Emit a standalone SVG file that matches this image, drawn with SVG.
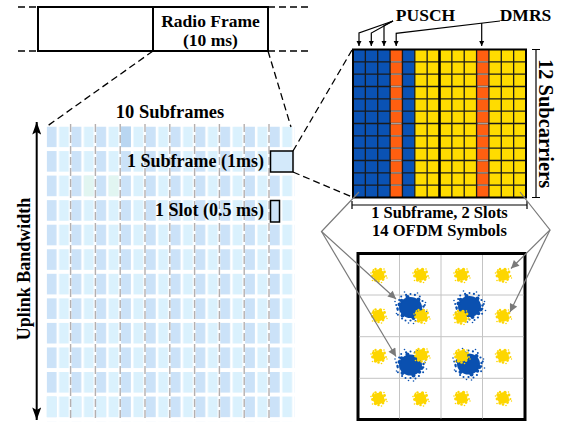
<svg xmlns="http://www.w3.org/2000/svg" width="564" height="424" viewBox="0 0 564 424">
<style>
text { font-family: "Liberation Serif", "Times New Roman", serif; font-weight: bold; fill: #000; }
.dash { stroke: #000; stroke-width: 1.3; stroke-dasharray: 7 4; fill: none; }
.gdash { stroke: #b4afaf; stroke-width: 1.4; stroke-dasharray: 8 3; fill: none; }
.blk { stroke: #000; stroke-width: 1.2; fill: none; }
.garrow { stroke: #7a7a7a; stroke-width: 1.2; fill: none; }
</style>
<defs>
<marker id="ah" viewBox="0 0 10 10" refX="10" refY="5" markerWidth="5" markerHeight="7" markerUnits="userSpaceOnUse" orient="auto">
<path d="M0,0 L10,5 L0,10 z" fill="#000"/>
</marker>
<marker id="ahg" viewBox="0 0 10 10" refX="10" refY="5" markerWidth="10" markerHeight="8" markerUnits="userSpaceOnUse" orient="auto">
<path d="M0,0 L10,5 L0,10 z" fill="#7a7a7a"/>
</marker>
<marker id="ahb" viewBox="0 0 14 10" refX="14" refY="5" markerWidth="14" markerHeight="9" markerUnits="userSpaceOnUse" orient="auto-start-reverse">
<path d="M0,0 L14,5 L0,10 L3,5 z" fill="#000"/>
</marker>
<pattern id="cells" patternUnits="userSpaceOnUse" x="46.7" y="126.5" width="24.8" height="24.55">
<rect x="0" y="0" width="9.8" height="20.6" fill="#cbe2f8"/>
<rect x="12.4" y="0" width="9.8" height="20.6" fill="#daf1fd"/>
</pattern>
<g id="yc" fill="#fdd600">
<circle r="5.8"/>
<circle cx="-5" cy="-3" r="1.7"/><circle cx="5" cy="2" r="1.7"/><circle cx="-3" cy="5" r="1.7"/><circle cx="2" cy="-5.5" r="1.7"/>
<circle cx="4.5" cy="4.5" r="1.4"/><circle cx="-6" cy="1" r="1.4"/><circle cx="6" cy="-3" r="1.4"/><circle cx="0" cy="6.5" r="1.3"/>
<circle cx="-3" cy="-6" r="1.2"/><circle cx="-5" cy="-5" r="0.9"/><circle cx="7.5" cy="1" r="0.9"/><circle cx="-7.5" cy="-2" r="0.8"/>
<circle cx="3" cy="7.5" r="0.8"/><circle cx="5.5" cy="-6" r="0.8"/><circle cx="-6" cy="5.5" r="0.8"/><circle cx="8.5" cy="3" r="0.7"/>
</g>
<g id="bc" fill="#0a50b0">
<ellipse rx="11.5" ry="10.5"/>
<circle cx="11" cy="3" r="2"/><circle cx="-11" cy="-3" r="2"/><circle cx="3" cy="10.5" r="2"/><circle cx="-3" cy="-10.5" r="2"/>
<circle cx="8" cy="-8" r="2"/><circle cx="-8" cy="8" r="2"/><circle cx="9" cy="7" r="1.8"/><circle cx="-9" cy="-7" r="1.8"/>
<circle cx="12.8" cy="2.3" r="1.1"/><circle cx="12.6" cy="7.3" r="1"/><circle cx="8.4" cy="11" r="1.1"/><circle cx="5" cy="13.6" r="1"/>
<circle cx="0" cy="13" r="1.1"/><circle cx="-5" cy="13" r="1"/><circle cx="-8.4" cy="11" r="1.1"/><circle cx="-12.6" cy="7.3" r="1"/>
<circle cx="-12.8" cy="2.3" r="1.1"/><circle cx="-14.3" cy="-2.5" r="1"/><circle cx="-11.3" cy="-7.5" r="1.1"/><circle cx="-9.3" cy="-11.1" r="1"/>
<circle cx="-4.4" cy="-12.6" r="1.1"/><circle cx="0" cy="-13.5" r="1"/><circle cx="4.4" cy="-12.6" r="1.1"/><circle cx="9.3" cy="-11.1" r="1"/>
<circle cx="12" cy="-6.5" r="1.1"/><circle cx="14.3" cy="-2.5" r="1"/><circle cx="13" cy="-1" r="1.2"/><circle cx="-13" cy="1" r="1.2"/>
<circle cx="16" cy="4" r="0.8"/><circle cx="-15.5" cy="-6" r="0.8"/><circle cx="3" cy="16" r="0.8"/><circle cx="-6" cy="-15.5" r="0.8"/>
<circle cx="15" cy="-5" r="0.8"/><circle cx="-14" cy="6" r="0.8"/><circle cx="-2" cy="15.5" r="0.8"/><circle cx="7" cy="-14.5" r="0.8"/>
</g>
</defs>
<rect width="564" height="424" fill="#fff"/>

<g id="radio-frame">
<rect x="38" y="7" width="230" height="44" fill="#fff" stroke="#000" stroke-width="2"/>
<line x1="153" y1="7" x2="153" y2="51" stroke="#000" stroke-width="2"/>
<text x="210.5" y="27" font-size="17.5" text-anchor="middle">Radio Frame</text>
<text x="210.5" y="46" font-size="17.5" text-anchor="middle">(10 ms)</text>
</g>

<g id="subframe-grid">
<rect x="46.7" y="126.5" width="248" height="294.6" fill="url(#cells)"/>
<rect x="121.1" y="126.5" width="9.8" height="20.6" fill="#b9d6f1"/>
<rect x="83.9" y="175.6" width="9.8" height="20.6" fill="#e1f5f1"/>
<rect x="108.7" y="175.6" width="9.8" height="20.6" fill="#e1f5f1"/>
<rect x="46.7" y="396.55" width="9.8" height="20.6" fill="#daf1fd"/>
<rect x="71.5" y="396.55" width="9.8" height="20.6" fill="#daf1fd"/>
<rect x="96.3" y="396.55" width="9.8" height="20.6" fill="#daf1fd"/>
<path class="gdash" d="M70.6,124V420 M95.4,124V420 M120.2,124V420 M145,124V420 M169.8,124V420 M194.6,124V420 M219.4,124V420 M244.2,124V420 M269,124V420"/>
<text x="170" y="118" font-size="18.5" text-anchor="middle">10 Subframes</text>
<text x="264" y="167" font-size="18" text-anchor="end">1 Subframe (1ms)</text>
<text x="264" y="216" font-size="18" text-anchor="end">1 Slot (0.5 ms)</text>
</g>

<g id="subframe-box">
<rect x="270.5" y="151" width="22.5" height="21" fill="#d3e9fa" stroke="#000" stroke-width="1.5"/>
</g>
<g id="slot-box">
<rect x="270.5" y="200.5" width="9" height="21.5" fill="#cbe2f8" stroke="#000" stroke-width="1.5"/>
</g>

<g id="uplink-bandwidth">
<line x1="36.7" y1="122" x2="36.7" y2="420" stroke="#000" stroke-width="2" marker-start="url(#ahb)" marker-end="url(#ahb)"/>
<text transform="translate(30,269) rotate(-90)" font-size="18" text-anchor="middle">Uplink Bandwidth</text>
</g>

<g id="resource-grid">
<rect x="353" y="49.5" width="37.07" height="148" fill="#0a52b4"/>
<rect x="390.07" y="49.5" width="12.36" height="148" fill="#ff5f10"/>
<rect x="402.43" y="49.5" width="12.36" height="148" fill="#0a52b4"/>
<rect x="414.79" y="49.5" width="61.78" height="148" fill="#ffdc00"/>
<rect x="476.57" y="49.5" width="12.36" height="148" fill="#ff5f10"/>
<rect x="488.93" y="49.5" width="37.07" height="148" fill="#ffdc00"/>
<path stroke="#1a1a1a" stroke-width="1.3" fill="none" d="M365.36,49.5V197.5 M377.71,49.5V197.5 M390.07,49.5V197.5 M402.43,49.5V197.5 M414.79,49.5V197.5 M427.14,49.5V197.5 M451.86,49.5V197.5 M464.21,49.5V197.5 M476.57,49.5V197.5 M488.93,49.5V197.5 M501.29,49.5V197.5 M513.64,49.5V197.5 M353,61.83H526 M353,74.17H526 M353,86.5H526 M353,98.83H526 M353,111.17H526 M353,123.5H526 M353,135.83H526 M353,148.17H526 M353,160.5H526 M353,172.83H526 M353,185.17H526"/>
<path stroke="#a0a0a0" stroke-width="1.3" fill="none" d="M391,61.83H401.5 M391,74.17H401.5 M391,86.5H401.5 M391,98.83H401.5 M391,111.17H401.5 M391,123.5H401.5 M391,135.83H401.5 M391,148.17H401.5 M391,160.5H401.5 M391,172.83H401.5 M391,185.17H401.5 M477.5,61.83H488 M477.5,74.17H488 M477.5,86.5H488 M477.5,98.83H488 M477.5,111.17H488 M477.5,123.5H488 M477.5,135.83H488 M477.5,148.17H488 M477.5,160.5H488 M477.5,172.83H488 M477.5,185.17H488"/>
<line x1="439.5" y1="49.5" x2="439.5" y2="197.5" stroke="#000" stroke-width="2.6"/>
<rect x="353" y="49.5" width="173" height="148" fill="none" stroke="#000" stroke-width="2"/>
</g>

<g id="subcarriers-label">
<path class="blk" d="M532,49.5H540 M536,49.5V197.5 M532,197.5H540"/>
<text transform="translate(539,123.5) rotate(90)" font-size="20.5" text-anchor="middle">12 Subcarriers</text>
</g>

<g id="symbols-label">
<path class="blk" d="M352,201V209 M352,205H527 M527,201V209"/>
<text x="439.5" y="217.5" font-size="16.5" text-anchor="middle">1 Subframe, 2 Slots</text>
<text x="439.5" y="236" font-size="16.5" text-anchor="middle">14 OFDM Symbols</text>
</g>

<g id="pusch-label">
<text x="425.5" y="21" font-size="17.5" text-anchor="middle">PUSCH</text>
</g>
<g id="dmrs-label">
<text x="525.5" y="21" font-size="17.5" text-anchor="middle">DMRS</text>
</g>

<g id="constellation">
<rect x="358" y="253.5" width="167" height="166" fill="#fff" stroke="#000" stroke-width="3"/>
<path stroke="#c4c4c4" stroke-width="1" fill="none" d="M399.5,255V418.5 M441,255V418.5 M482.5,255V418.5 M359.5,295H523.5 M359.5,336.7H523.5 M359.5,378.3H523.5"/>
<use href="#bc" x="410.5" y="307.5"/>
<use href="#bc" x="469.5" y="306.5"/>
<use href="#bc" x="410.5" y="365"/>
<use href="#bc" x="468.5" y="364"/>
<use href="#yc" x="378.5" y="275"/>
<use href="#yc" x="420.5" y="275"/>
<use href="#yc" x="461.5" y="275"/>
<use href="#yc" x="503" y="275"/>
<use href="#yc" x="378.5" y="315.5"/>
<use href="#yc" x="421.5" y="316"/>
<use href="#yc" x="461" y="317"/>
<use href="#yc" x="503" y="316"/>
<use href="#yc" x="378.5" y="356"/>
<use href="#yc" x="421.5" y="355"/>
<use href="#yc" x="461.5" y="356"/>
<use href="#yc" x="503" y="356"/>
<use href="#yc" x="378.5" y="398.5"/>
<use href="#yc" x="420.5" y="398.5"/>
<use href="#yc" x="461.5" y="398"/>
<use href="#yc" x="503" y="398"/>
</g>

<g id="connectors">
<path class="dash" d="M18,7H38 M268,7H310 M18,51H38 M268,51H310"/>
<path class="dash" d="M153,51L46,127 M268,51L291,127"/>
<path class="dash" d="M293,151L352,50 M293,172L352,197"/>
<path class="blk" d="M393,21L359,33V46" marker-end="url(#ah)"/>
<path class="blk" d="M393,21L371.3,33V46" marker-end="url(#ah)"/>
<path class="blk" d="M393,21L384,25.5V46" marker-end="url(#ah)"/>
<path class="blk" d="M500,21L396.2,33.3V46" marker-end="url(#ah)"/>
<path class="blk" d="M481.7,23V46" marker-end="url(#ah)"/>
<path class="garrow" d="M359,192L321.5,231.5L396,299" marker-end="url(#ahg)"/>
<path class="garrow" d="M321.5,231.5L396,356.5" marker-end="url(#ahg)"/>
<path class="garrow" d="M520,192L550,230L511,268.5" marker-end="url(#ahg)"/>
<path class="garrow" d="M550,230L510,312" marker-end="url(#ahg)"/>
</g>
</svg>
